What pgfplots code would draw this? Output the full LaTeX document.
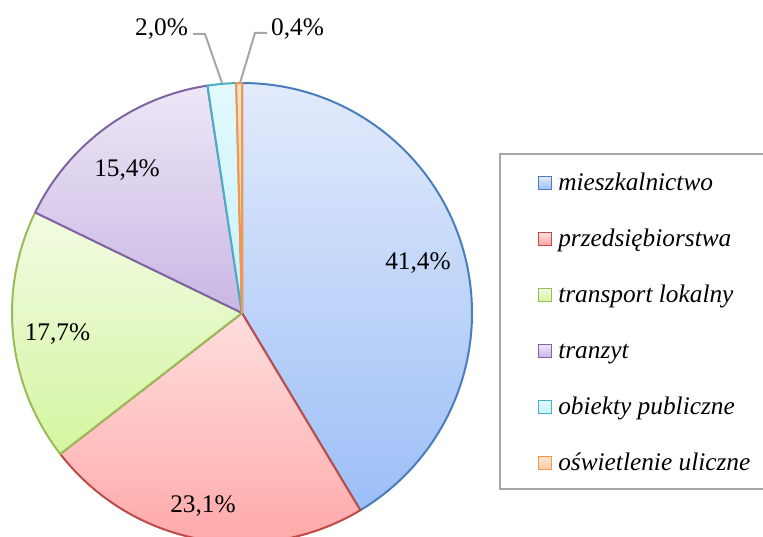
\documentclass[border=0pt]{standalone}
\usepackage{pgfplots}
\pgfplotsset{compat=1.18}
\usepackage{pgfplotstable}
\usepackage{fontspec}
\setmainfont{Liberation Serif}

\definecolor{l1}{HTML}{4A7EBB}\definecolor{t1}{HTML}{E3EBFB}\definecolor{b1}{HTML}{9CBEF7}
\definecolor{l2}{HTML}{BE4B48}\definecolor{t2}{HTML}{FFDEDE}\definecolor{b2}{HTML}{FFA3A3}
\definecolor{l3}{HTML}{9BBB59}\definecolor{t3}{HTML}{F2FBE3}\definecolor{b3}{HTML}{D4F5A0}
\definecolor{l4}{HTML}{8064A2}\definecolor{t4}{HTML}{EDE7F6}\definecolor{b4}{HTML}{C9B7E4}
\definecolor{l5}{HTML}{4BACC6}\definecolor{t5}{HTML}{E3F9FD}\definecolor{b5}{HTML}{C9F2FA}
\definecolor{l6}{HTML}{F79646}\definecolor{t6}{HTML}{FDE4D0}\definecolor{b6}{HTML}{FBCBA6}
\definecolor{leader}{HTML}{A6A6A6}
\definecolor{legbd}{HTML}{A6A6A6}

\pgfplotstableread[col sep=comma]{
name,value
mieszkalnictwo,41.4
przedsiębiorstwa,23.1
transport lokalny,17.7
tranzyt,15.4
obiekty publiczne,2.0
oświetlenie uliczne,0.4
}\piedata

\begin{document}
\begin{tikzpicture}
\begin{axis}[at={(0,0)}, anchor=south west, scale only axis,
  width=572.25pt, height=402pt,
  xmin=0, xmax=763, ymin=0, ymax=536, hide axis, clip=false]
\gdef\cum{0}
\pgfplotsforeachungrouped \i in {0,...,5}{%
  \pgfplotstablegetelem{\i}{value}\of\piedata
  \let\v=\pgfplotsretval
  \pgfplotstablegetelem{\i}{name}\of\piedata
  \let\nm=\pgfplotsretval
  \pgfmathsetmacro\a{90-3.6*\cum}%
  \pgfmathsetmacro\b{90-3.6*(\cum+\v)}%
  \pgfmathtruncatemacro\k{\i+1}%
  \pgfmathsetmacro\yc{353-56*\i}%
  \pgfmathsetmacro\ylo{\yc-6.5}%
  \pgfmathsetmacro\yhi{\yc+6.5}%
  \pgfmathsetmacro\ybase{\yc-7.5}%
  \edef\slice{\noexpand\draw[line width=1.5pt, line join=round, draw=l\k, top color=t\k, bottom color=b\k]
     (axis cs:242,223) -- ++(\a:172.5pt) arc[start angle=\a, end angle=\b, radius=172.5pt] -- cycle;
     \noexpand\draw[line width=1.4pt, draw=l\k, top color=t\k, bottom color=b\k]
     (axis cs:538.5,\ylo) rectangle (axis cs:551.5,\yhi);
     \noexpand\node[anchor=base west, inner sep=0pt, font=\noexpand\fontsize{19}{22}\noexpand\selectfont\noexpand\itshape]
     at (axis cs:558,\ybase) {\nm};}%
  \slice
  \pgfmathsetmacro\cum{\cum+\v}%
}
% legend frame
\draw[legbd, line width=1.5pt] (axis cs:500,382) rectangle (axis cs:780,47);
% leader lines
\draw[leader, line width=1.5pt] (axis cs:193,502) -- (axis cs:205,502) -- (axis cs:222,453);
\draw[leader, line width=1.5pt] (axis cs:267,503) -- (axis cs:255,503) -- (axis cs:240,453);
% data labels
\begin{scope}[every node/.style={font=\fontsize{19}{22}\selectfont, inner sep=0pt}]
\node at (axis cs:418,273) {41,4\%};
\node at (axis cs:203,30) {23,1\%};
\node at (axis cs:57.5,202) {17,7\%};
\node at (axis cs:127,366) {15,4\%};
\node at (axis cs:161.5,507) {2,0\%};
\node at (axis cs:297.5,507) {0,4\%};
\end{scope}
\end{axis}
\pgfresetboundingbox
\path[use as bounding box] (0,0) rectangle (572.25pt,402pt);
\end{tikzpicture}
\end{document}
